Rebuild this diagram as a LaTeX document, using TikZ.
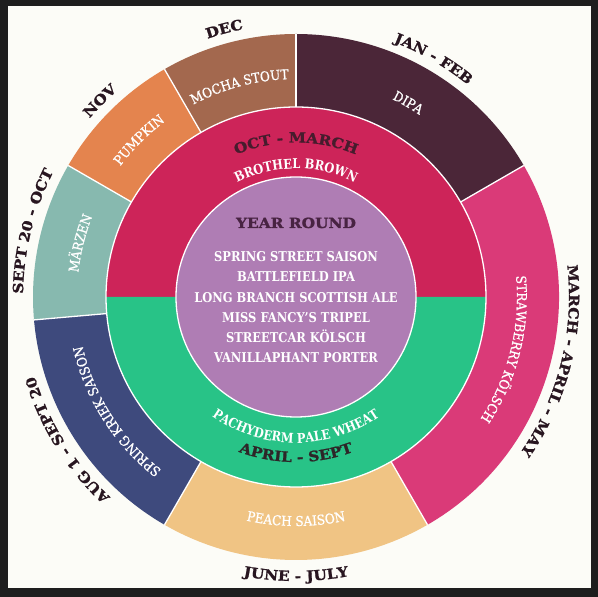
\documentclass[tikz,border=0pt]{standalone}
\usepackage{fontspec}
\setmainfont{DejaVu Serif}
\newfontfamily\monthfam{DejaVu Serif}[FakeStretch=1.1,FakeBold=1.4]
\newfontfamily\beerfam{DejaVu Serif}[FakeStretch=0.9,FakeBold=0.9]
\newfontfamily\listfam{DejaVu Serif}[FakeStretch=0.85]
\usetikzlibrary{decorations.text}
\newcommand\mfont{\monthfam\bfseries\fontsize{14}{14}\selectfont}
\newcommand\bfont{\beerfam\fontsize{13.5}{13.5}\selectfont}
\newcommand\mbfont{\listfam\bfseries\fontsize{13.5}{13.5}\selectfont}
\newcommand\cwtext[5]{\path[decorate,decoration={text along path,text align=center,text color=#4,text={#5}}] ({#1+#3}:#2) arc[start angle={#1+#3}, end angle={#1-#3}, radius=#2];}
\newcommand\ccwtext[5]{\path[decorate,decoration={text along path,text align=center,text color=#4,text={#5}}] ({#1-#3}:#2) arc[start angle={#1-#3}, end angle={#1+#3}, radius=#2];}
\definecolor{framec}{RGB}{30,30,30}
\definecolor{bgc}{RGB}{252,252,247}
\definecolor{dipa}{RGB}{75,38,56}
\definecolor{mocha}{RGB}{163,104,78}
\definecolor{pumpkin}{RGB}{228,132,78}
\definecolor{marzen}{RGB}{135,185,175}
\definecolor{kriek}{RGB}{62,74,125}
\definecolor{peach}{RGB}{240,196,132}
\definecolor{straw}{RGB}{218,58,120}
\definecolor{redm}{RGB}{205,36,89}
\definecolor{greenm}{RGB}{40,195,135}
\definecolor{purp}{RGB}{175,125,180}
\definecolor{monthc}{RGB}{40,22,32}
\definecolor{octc}{RGB}{70,28,45}
\definecolor{aprc}{RGB}{45,38,40}
\definecolor{yearc}{RGB}{72,35,66}
\tikzset{sep/.style={white,line width=1.3pt},
  listtxt/.style={text=white,font=\mbfont,anchor=base,inner sep=0pt}}
\begin{document}
\begin{tikzpicture}[x=1pt,y=1pt]
\useasboundingbox (0,0) rectangle (598,597);
\fill[framec] (0,0) rectangle (598,597);
\fill[bgc] (8,9) rectangle (591,591);
\begin{scope}[shift={(296,300)}]
  \foreach \a/\b/\c in {30/90/dipa,90/120/mocha,120/150/pumpkin,150/185/marzen,185/240/kriek,240/300/peach,300/390/straw}{
    \fill[\c] (\a:190pt) arc[start angle=\a, end angle=\b, radius=190pt] -- (\b:263pt) arc[start angle=\b, end angle=\a, radius=263pt] -- cycle;}
  \fill[redm] (190pt,0) arc[start angle=0, end angle=180, radius=190pt] -- cycle;
  \fill[greenm] (-190pt,0) arc[start angle=180, end angle=360, radius=190pt] -- cycle;
  \fill[purp] (0,0) circle[radius=120pt];
  \draw[sep] (0,0) circle[radius=120pt];
  \draw[sep] (0,0) circle[radius=190pt];
  \foreach \a in {30,90,120,150,185,240,300} \draw[sep] (\a:190pt) -- (\a:263pt);
  % month labels
  \cwtext{60}{273pt}{40}{monthc}{|\mfont|JAN - FEB}
  \cwtext{105}{273pt}{40}{monthc}{|\mfont|DEC}
  \cwtext{135}{273pt}{40}{monthc}{|\mfont|NOV}
  \cwtext{166}{273pt}{40}{monthc}{|\mfont|SEPT 20 - OCT}
  \cwtext{212}{273pt}{40}{monthc}{|\mfont|AUG 1 - SEPT 20}
  \cwtext{-14}{273pt}{40}{monthc}{|\mfont|MARCH - APRIL - MAY}
  \ccwtext{270}{284pt}{40}{monthc}{|\mfont|JUNE - JULY}
  % outer beers
  \cwtext{60}{220pt}{40}{white}{|\bfont|DIPA}
  \cwtext{105}{218pt}{40}{white}{|\bfont|MOCHA STOUT}
  \cwtext{135}{219pt}{40}{white}{|\bfont|PUMPKIN}
  \cwtext{166}{219pt}{40}{white}{|\bfont|MÄRZEN}
  \cwtext{212.5}{219pt}{40}{white}{|\bfont|SPRING KRIEK SAISON}
  \cwtext{-14}{221pt}{40}{white}{|\bfont|STRAWBERRY KÖLSCH}
  \ccwtext{270}{229pt}{40}{white}{|\bfont|PEACH SAISON}
  % middle ring
  \cwtext{90}{154.5pt}{60}{octc}{|\mfont|OCT - MARCH}
  \cwtext{90}{128.5pt}{60}{white}{|\mbfont|BROTHEL BROWN}
  \ccwtext{270}{146pt}{60}{white}{|\mbfont|PACHYDERM PALE WHEAT}
  \ccwtext{270}{165pt}{60}{aprc}{|\mfont|APRIL - SEPT}
  % centre
  \node[listtxt,text=yearc,font=\mfont] (yr) at (0,69) {YEAR ROUND};
  \node[listtxt] (l1) at (0,35.2) {SPRING STREET SAISON};
  \node[listtxt] (l2) at (0,15) {BATTLEFIELD IPA};
  \node[listtxt] (l3) at (0,-5.2) {LONG BRANCH SCOTTISH ALE};
  \node[listtxt] (l4) at (0,-25.4) {MISS FANCY’S TRIPEL};
  \node[listtxt] (l5) at (0,-45.6) {STREETCAR KÖLSCH};
  \node[listtxt] (l6) at (0,-65.8) {VANILLAPHANT PORTER};
\end{scope}
\end{tikzpicture}
\end{document}
